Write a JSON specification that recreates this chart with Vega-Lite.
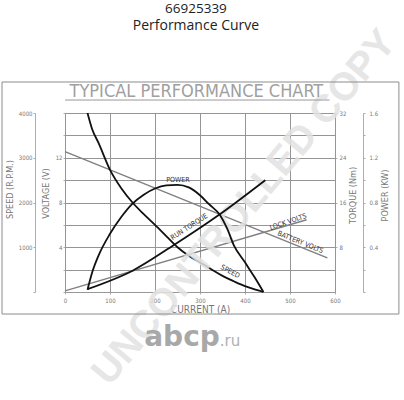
{
  "$schema": "https://vega.github.io/schema/vega-lite/v6.json",
  "width": 270,
  "height": 179,
  "autosize": {"type": "none"},
  "padding": {"left": 65, "top": 113, "right": 69, "bottom": 108},
  "background": "white",
  "config": {
    "view": {"stroke": null},
    "axis": {
      "labelFont": "Liberation Sans Narrow, DejaVu Sans Condensed, Arial Narrow, sans-serif",
      "labelFontSize": 6,
      "labelColor": "#777777",
      "titleFont": "Liberation Sans Narrow, DejaVu Sans Condensed, Arial Narrow, sans-serif",
      "titleFontSize": 9,
      "titleFontWeight": "normal",
      "titleColor": "#777777",
      "tickColor": "#999999",
      "domainColor": "#999999",
      "gridColor": "#959595",
      "gridWidth": 1,
      "gridOpacity": 1,
      "tickWidth": 0.8,
      "domainWidth": 0.8,
      "labelOverlap": false,
      "labelFlush": false
    }
  },
  "datasets": {
    "speed": [
      {"current": 50, "rpm": 4000}, {"current": 60, "rpm": 3650}, {"current": 75, "rpm": 3320},
      {"current": 100, "rpm": 2730}, {"current": 125, "rpm": 2320}, {"current": 150, "rpm": 2000},
      {"current": 175, "rpm": 1740}, {"current": 200, "rpm": 1500}, {"current": 225, "rpm": 1250},
      {"current": 250, "rpm": 1000}, {"current": 275, "rpm": 810}, {"current": 300, "rpm": 660},
      {"current": 325, "rpm": 510}, {"current": 350, "rpm": 360}, {"current": 375, "rpm": 240},
      {"current": 400, "rpm": 130}, {"current": 425, "rpm": 45}, {"current": 441, "rpm": 0}
    ],
    "volts": [
      {"current": 0, "volts": 12.55, "series": "BATTERY VOLTS"},
      {"current": 583, "volts": 3.05, "series": "BATTERY VOLTS"},
      {"current": 0, "volts": 0.1, "series": "LOCK VOLTS"},
      {"current": 537, "volts": 6.45, "series": "LOCK VOLTS"}
    ],
    "torque": [
      {"current": 50, "torque": 0.5}, {"current": 150, "torque": 3.8}, {"current": 242, "torque": 8.4},
      {"current": 344, "torque": 13.9}, {"current": 445, "torque": 20.0}
    ],
    "power": [
      {"current": 50, "kw": 0.02}, {"current": 60, "kw": 0.17}, {"current": 75, "kw": 0.33},
      {"current": 100, "kw": 0.52}, {"current": 125, "kw": 0.67}, {"current": 150, "kw": 0.79},
      {"current": 175, "kw": 0.87}, {"current": 200, "kw": 0.925}, {"current": 225, "kw": 0.953},
      {"current": 250, "kw": 0.958}, {"current": 275, "kw": 0.935}, {"current": 300, "kw": 0.865},
      {"current": 320, "kw": 0.785}, {"current": 344, "kw": 0.69}, {"current": 360, "kw": 0.57},
      {"current": 375, "kw": 0.42}, {"current": 400, "kw": 0.265}, {"current": 420, "kw": 0.14},
      {"current": 441, "kw": 0}
    ]
  },
  "layer": [
    {
      "data": {"name": "volts"},
      "mark": {"type": "line", "color": "#808080", "strokeWidth": 1.5},
      "encoding": {
        "x": {
          "field": "current", "type": "quantitative",
          "scale": {"domain": [0, 600], "nice": false},
          "axis": {
            "values": [0, 50, 100, 150, 200, 250, 300, 350, 400, 450, 500, 550, 600],
            "labelExpr": "datum.value % 100 == 0 ? datum.label : ''",
            "grid": true, "domain": true, "tickSize": 2, "labelPadding": 3,
            "title": "CURRENT (A)", "titleFontSize": 10, "titlePadding": 1
          }
        },
        "y": {
          "field": "volts", "type": "quantitative",
          "scale": {"domain": [0, 16], "nice": false},
          "axis": {
            "orient": "left", "values": [0, 2, 4, 6, 8, 10, 12, 14, 16],
            "labelExpr": "datum.value > 0 && datum.value % 4 == 0 && datum.value < 16 ? datum.label : ''",
            "domain": false, "grid": true,
            "tickSize": 2, "labelPadding": 1, "title": "VOLTAGE (V)", "titleY": 80, "titlePadding": 5
          }
        },
        "detail": {"field": "series"}
      }
    },
    {
      "layer": [
        {
          "data": {"name": "speed"},
          "mark": {"type": "line", "interpolate": "monotone", "color": "#111111", "strokeWidth": 1.8, "clip": false},
          "encoding": {
            "x": {"field": "current", "type": "quantitative", "scale": {"domain": [0, 600], "nice": false}},
            "y": {
              "field": "rpm", "type": "quantitative",
              "scale": {"domain": [0, 4000], "nice": false},
              "axis": {
                "orient": "left", "offset": 30,
                "values": [0, 500, 1000, 1500, 2000, 2500, 3000, 3500, 4000],
                "format": "d",
                "labelExpr": "datum.value > 0 && datum.value % 1000 == 0 ? datum.label : ''",
                "grid": false, "domain": true, "tickSize": 2, "labelPadding": 1,
                "title": "SPEED (R.P.M.)", "titleY": 76, "titlePadding": 4
              }
            }
          }
        },
        {
          "data": {"values": [{}]},
          "mark": {"type": "text", "text": "UNCONTROLLED COPY", "angle": -50, "font": "Liberation Sans, Arial, sans-serif", "fontWeight": "bold", "fontSize": 39, "color": "#e2e2e2", "opacity": 0.85, "align": "center", "baseline": "middle", "clip": false},
          "encoding": {
            "x": {"datum": 398, "type": "quantitative"},
            "y": {"datum": 1888, "type": "quantitative"}
          }
        },
        {
          "data": {"values": [{}]},
          "mark": {"type": "text", "text": "abcp", "font": "DejaVu Sans", "fontWeight": "bold", "fontSize": 28, "color": "#a8a8a8", "align": "right", "baseline": "alphabetic", "clip": false},
          "encoding": {
            "x": {"datum": 344, "type": "quantitative"},
            "y": {"datum": -1207, "type": "quantitative"}
          }
        },
        {
          "data": {"values": [{}]},
          "mark": {"type": "text", "text": ".ru", "font": "DejaVu Sans", "fontSize": 15, "color": "#b0b0b0", "align": "left", "baseline": "alphabetic", "clip": false},
          "encoding": {
            "x": {"datum": 344, "type": "quantitative"},
            "y": {"datum": -1207, "type": "quantitative"}
          }
        },
        {
          "data": {"values": [{}]},
          "mark": {"type": "text", "text": "66925339", "font": "Open Sans", "fontSize": 13.5, "color": "#222222", "align": "center", "baseline": "middle", "clip": false},
          "encoding": {
            "x": {"datum": 291, "type": "quantitative"},
            "y": {"datum": 6330, "type": "quantitative"}
          }
        },
        {
          "data": {"values": [{}]},
          "mark": {"type": "text", "text": "Performance Curve", "font": "Open Sans", "fontSize": 14, "color": "#222222", "align": "center", "baseline": "middle", "clip": false},
          "encoding": {
            "x": {"datum": 291, "type": "quantitative"},
            "y": {"datum": 5940, "type": "quantitative"}
          }
        },
        {
          "data": {"values": [{}]},
          "mark": {"type": "text", "text": "TYPICAL  PERFORMANCE  CHART", "font": "Liberation Sans Narrow, DejaVu Sans Condensed, Arial Narrow, sans-serif", "fontSize": 18, "color": "#a0a0a0", "align": "center", "baseline": "middle", "clip": false},
          "encoding": {
            "x": {"datum": 292, "type": "quantitative"},
            "y": {"datum": 4480, "type": "quantitative"}
          }
        },
        {
          "data": {"values": [{}]},
          "mark": {"type": "rect", "fillOpacity": 0, "stroke": "#8c8c8c", "strokeWidth": 1, "clip": false},
          "encoding": {
            "x": {"datum": -140, "type": "quantitative"},
            "x2": {"datum": 742},
            "y": {"datum": 4693, "type": "quantitative"},
            "y2": {"datum": -492}
          }
        },
        {
          "data": {"values": [{}]},
          "mark": {"type": "rule", "color": "#999999", "strokeWidth": 1, "clip": false},
          "encoding": {
            "x": {"datum": 0, "type": "quantitative"},
            "x2": {"datum": 588},
            "y": {"datum": 4290, "type": "quantitative"}
          }
        },
        {
          "data": {"values": [{}]},
          "mark": {"type": "text", "text": "POWER", "font": "Liberation Sans Narrow, DejaVu Sans Condensed, sans-serif", "fontSize": 7, "color": "#333333", "align": "center", "baseline": "middle"},
          "encoding": {
            "x": {"datum": 251, "type": "quantitative"},
            "y": {"datum": 2503, "type": "quantitative"}
          }
        },
        {
          "data": {"values": [{}]},
          "mark": {"type": "text", "text": "RUN TORQUE", "angle": -33, "font": "Liberation Sans Narrow, DejaVu Sans Condensed, sans-serif", "fontSize": 7, "color": "#333333", "align": "center", "baseline": "middle"},
          "encoding": {
            "x": {"datum": 276, "type": "quantitative"},
            "y": {"datum": 1453, "type": "quantitative"}
          }
        },
        {
          "data": {"values": [{}]},
          "mark": {"type": "text", "text": "SPEED", "angle": 28, "font": "Liberation Sans Narrow, DejaVu Sans Condensed, sans-serif", "fontSize": 7, "color": "#333333", "align": "center", "baseline": "middle"},
          "encoding": {
            "x": {"datum": 367, "type": "quantitative"},
            "y": {"datum": 454, "type": "quantitative"}
          }
        },
        {
          "data": {"values": [{}]},
          "mark": {"type": "text", "text": "LOCK VOLTS", "angle": -19, "font": "Liberation Sans Narrow, DejaVu Sans Condensed, sans-serif", "fontSize": 7, "color": "#333333", "align": "center", "baseline": "middle"},
          "encoding": {
            "x": {"datum": 496, "type": "quantitative"},
            "y": {"datum": 1564, "type": "quantitative"}
          }
        },
        {
          "data": {"values": [{}]},
          "mark": {"type": "text", "text": "BATTERY VOLTS", "angle": 22, "font": "Liberation Sans Narrow, DejaVu Sans Condensed, sans-serif", "fontSize": 7, "color": "#333333", "align": "center", "baseline": "middle"},
          "encoding": {
            "x": {"datum": 523, "type": "quantitative"},
            "y": {"datum": 1110, "type": "quantitative"}
          }
        }
      ]
    },
    {
      "data": {"name": "torque"},
      "mark": {"type": "line", "interpolate": "monotone", "color": "#111111", "strokeWidth": 1.8},
      "encoding": {
        "x": {"field": "current", "type": "quantitative", "scale": {"domain": [0, 600], "nice": false}},
        "y": {
          "field": "torque", "type": "quantitative",
          "scale": {"domain": [0, 32], "nice": false},
          "axis": {
            "orient": "right", "values": [8, 16, 24, 32], "domain": false, "grid": false,
            "tickSize": 2, "labelPadding": 2, "title": "TORQUE (Nm)", "titleAngle": -90, "titleBaseline": "top", "titleY": 82, "titlePadding": 3
          }
        }
      }
    },
    {
      "data": {"name": "power"},
      "mark": {"type": "line", "interpolate": "monotone", "color": "#111111", "strokeWidth": 1.8},
      "encoding": {
        "x": {"field": "current", "type": "quantitative", "scale": {"domain": [0, 600], "nice": false}},
        "y": {
          "field": "kw", "type": "quantitative",
          "scale": {"domain": [0, 1.6], "nice": false},
          "axis": {
            "orient": "right", "offset": 28,
            "values": [0, 0.2, 0.4, 0.6, 0.8, 1.0, 1.2, 1.4, 1.6],
            "labelExpr": "datum.value > 0 && round(datum.value * 10) % 4 == 0 ? format(datum.value, '.1f') : ''",
            "domain": true, "grid": false, "tickSize": 2, "labelPadding": 4,
            "title": "POWER (KW)", "titleAngle": -90, "titleBaseline": "top", "titleY": 82, "titlePadding": 3
          }
        }
      }
    }
  ],
  "resolve": {"scale": {"y": "independent"}, "axis": {"y": "independent"}}
}
